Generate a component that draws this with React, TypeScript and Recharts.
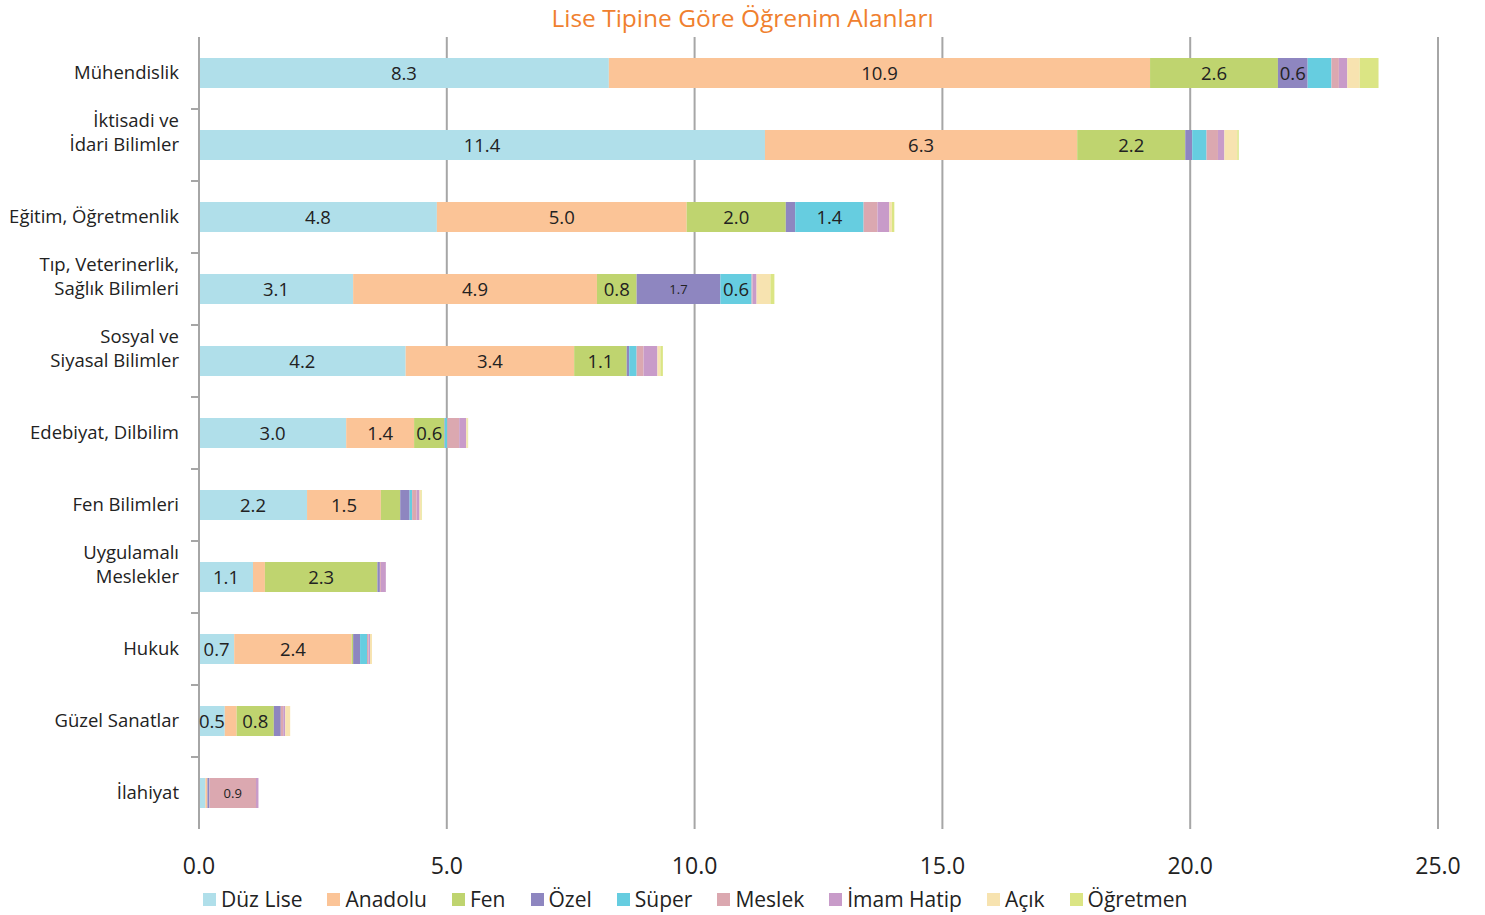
import React from "react";
import {
  BarChart,
  Bar,
  XAxis,
  YAxis,
  CartesianGrid,
  Legend,
  LabelList,
} from "recharts";

const categories = [
  "Mühendislik",
  "İktisadi ve\nİdari Bilimler",
  "Eğitim, Öğretmenlik",
  "Tıp, Veterinerlik,\nSağlık Bilimleri",
  "Sosyal ve\nSiyasal Bilimler",
  "Edebiyat, Dilbilim",
  "Fen Bilimleri",
  "Uygulamalı\nMeslekler",
  "Hukuk",
  "Güzel Sanatlar",
  "İlahiyat",
];

const duzLise = [8.27, 11.42, 4.8, 3.11, 4.17, 2.97, 2.18, 1.09, 0.71, 0.52, 0.13];
const anadolu = [10.92, 6.3, 5.04, 4.92, 3.4, 1.37, 1.49, 0.24, 2.37, 0.24, 0.04];
const fen = [2.58, 2.18, 2.0, 0.8, 1.06, 0.61, 0.39, 2.27, 0.03, 0.75, 0];
const ozel = [0.6, 0.14, 0.19, 1.69, 0.05, 0.01, 0.19, 0.05, 0.14, 0.14, 0.04];
const superLise = [0.48, 0.29, 1.38, 0.63, 0.15, 0.05, 0.05, 0, 0.14, 0, 0];
const meslek = [0.15, 0.23, 0.28, 0.02, 0.14, 0.24, 0.09, 0.02, 0.03, 0.05, 0.94];
const imamHatip = [0.17, 0.13, 0.24, 0.08, 0.28, 0.14, 0.06, 0.1, 0.03, 0.04, 0.05];
const acik = [0.25, 0.26, 0.05, 0.28, 0.06, 0.03, 0.04, 0, 0.04, 0.1, 0];
const ogretmen = [0.38, 0.03, 0.05, 0.08, 0.05, 0.01, 0.01, 0, 0, 0, 0];

const xTicks = [0, 5, 10, 15, 20, 25];

const series = [
  { key: "duzLise", name: "Düz Lise", color: "#b0dfea", values: duzLise },
  { key: "anadolu", name: "Anadolu", color: "#fbc497", values: anadolu },
  { key: "fen", name: "Fen", color: "#bfd46f", values: fen },
  { key: "ozel", name: "Özel", color: "#8e86c0", values: ozel },
  { key: "super", name: "Süper", color: "#66cde0", values: superLise },
  { key: "meslek", name: "Meslek", color: "#dba8b0", values: meslek },
  { key: "imamHatip", name: "İmam Hatip", color: "#c89bc9", values: imamHatip },
  { key: "acik", name: "Açık", color: "#f7e3b0", values: acik },
  { key: "ogretmen", name: "Öğretmen", color: "#dbe584", values: ogretmen },
];

// the two labels Excel drew in a smaller font
const smallLabels = ["ozel-3", "meslek-10"];

const data = categories.map((name, i) => {
  const row: Record<string, any> = { name };
  series.forEach((s) => (row[s.key] = s.values[i]));
  return row;
});

const W = 1485;
const H = 915;
const TOP = 37;
const BOTTOM = 829;
const BAND = (BOTTOM - TOP) / categories.length;
const FONT = "'Open Sans', sans-serif";
const GRID = "#a6a6a6";

const CatTick = (props: any) => {
  const { x, y, payload, index } = props;
  const lines = String(payload.value).split("\n");
  const axisX = x + 8;
  return (
    <g>
      {lines.map((l, i) => (
        <text
          key={i}
          x={axisX - 20}
          y={y - (lines.length - 1 - i) * 24}
          dy={6}
          textAnchor="end"
          fontSize={18.5}
          fill="#222"
          fontFamily={FONT}
        >
          {l}
        </text>
      ))}
      {index < categories.length - 1 && (
        <line
          x1={axisX - 8}
          x2={axisX}
          y1={y + BAND / 2}
          y2={y + BAND / 2}
          stroke={GRID}
          strokeWidth={2}
        />
      )}
    </g>
  );
};

const makeLabel = (key: string) => (props: any) => {
  const { x, y, width, height, value, index } = props;
  if (value == null || value < 0.5) return null;
  const small = smallLabels.includes(`${key}-${index}`);
  return (
    <text
      x={x + width / 2}
      y={y + height / 2}
      dy={small ? 5 : 6.5}
      textAnchor="middle"
      fontSize={small ? 13 : 18.5}
      fill="#222"
      fontFamily={FONT}
    >
      {Number(value).toFixed(1)}
    </text>
  );
};

const renderLegend = () => (
  <div
    style={{
      display: "flex",
      alignItems: "center",
      paddingLeft: 203,
      fontFamily: FONT,
      fontSize: 21,
      color: "#222",
    }}
  >
    {series.map((s) => (
      <div
        key={s.key}
        style={{ display: "flex", alignItems: "center", marginRight: 25 }}
      >
        <span
          style={{
            width: 13,
            height: 13,
            background: s.color,
            display: "inline-block",
            marginRight: 5,
          }}
        />
        <span>{s.name}</span>
      </div>
    ))}
  </div>
);

export default function App() {
  return (
    <div
      style={{
        position: "absolute",
        left: 0,
        top: 0,
        width: W,
        height: H,
        background: "#fff",
        fontFamily: FONT,
      }}
    >
      <div
        style={{
          position: "absolute",
          top: 1,
          left: 0,
          width: W,
          textAlign: "center",
          color: "#f0802e",
          fontSize: 24.5,
          zIndex: 1,
        }}
      >
        Lise Tipine Göre Öğrenim Alanları
      </div>
      <BarChart
        width={W}
        height={H}
        data={data}
        layout="vertical"
        margin={{ top: TOP, right: 47, left: 0, bottom: 0 }}
        barSize={30}
      >
        <CartesianGrid horizontal={false} stroke={GRID} strokeWidth={2} />
        <XAxis
          type="number"
          domain={[0, 25]}
          ticks={xTicks}
          tickFormatter={(v: number) => v.toFixed(1)}
          axisLine={false}
          tickLine={false}
          tickMargin={23}
          height={56}
          tick={{ fontSize: 23, fill: "#222", fontFamily: FONT }}
        />
        <YAxis
          type="category"
          dataKey="name"
          width={199}
          interval={0}
          axisLine={{ stroke: GRID, strokeWidth: 2 }}
          tickLine={false}
          tick={<CatTick />}
        />
        <Legend verticalAlign="bottom" height={30} content={renderLegend} />
        {series.map((s) => (
          <Bar
            key={s.key}
            dataKey={s.key}
            name={s.name}
            stackId="a"
            fill={s.color}
            isAnimationActive={false}
          >
            <LabelList dataKey={s.key} content={makeLabel(s.key)} />
          </Bar>
        ))}
      </BarChart>
    </div>
  );
}
